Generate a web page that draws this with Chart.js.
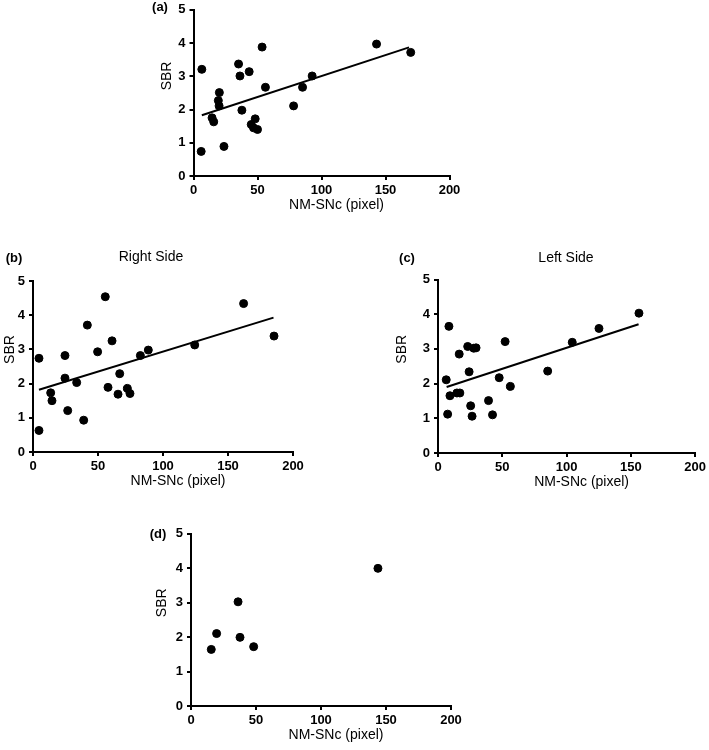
<!DOCTYPE html>
<html>
<head>
<meta charset="utf-8">
<script src="https://cdn.jsdelivr.net/npm/chart.js@4/dist/chart.umd.min.js"></script>
<style>
  html, body { margin: 0; padding: 0; background: #fff; }
  #wrap { position: relative; width: 709px; height: 750px; }
  #wrap canvas { position: absolute; left: 0; top: 0; }
</style>
</head>
<body>
<div id="wrap">
  <canvas id="chartA" width="709" height="750"></canvas>
  <canvas id="chartB" width="709" height="750"></canvas>
  <canvas id="chartC" width="709" height="750"></canvas>
  <canvas id="chartD" width="709" height="750"></canvas>
</div>
<script>
// (a) all
const aX = [6, 6.5, 14.5, 15.8, 19.4, 20.2, 20, 23.8, 35.2, 36.3, 37.8, 43.5, 53.6, 56.2, 45.1, 46.9, 48.2, 50, 78.2, 85.2, 92.7, 143, 169.7];
const aY = [0.74, 3.21, 1.75, 1.63, 2.27, 2.51, 2.11, 0.89, 3.37, 3.01, 1.98, 3.14, 3.88, 2.67, 1.55, 1.45, 1.72, 1.40, 2.11, 2.67, 3.01, 3.97, 3.72];
const aFitX = [6.5, 168.4];
const aFitY = [1.83, 3.87];

// (b) right side
const bX = [4.6, 4.6, 13.6, 14.6, 24.6, 24.6, 26.7, 33.6, 39, 41.8, 49.7, 55.6, 57.7, 60.8, 65.4, 66.7, 72.6, 74.6, 82.6, 88.7, 124.4, 162, 185.4];
const bY = [2.74, 0.63, 1.73, 1.50, 2.82, 2.16, 1.21, 2.03, 0.93, 3.71, 2.93, 4.54, 1.89, 3.25, 1.69, 2.29, 1.86, 1.71, 2.82, 2.98, 3.13, 4.34, 3.39];
const bFitX = [4.6, 185];
const bFitY = [1.82, 3.93];

// (c) left side
const cX = [6.4, 7.5, 8.5, 9.3, 14.7, 17, 16.5, 23.1, 24.2, 25.4, 26.5, 27.8, 29.6, 39.3, 42.4, 47.6, 52.2, 56.3, 85.3, 104.4, 125.2, 156.3];
const cY = [2.11, 1.12, 3.65, 1.65, 1.73, 1.73, 2.85, 3.07, 2.34, 1.36, 1.06, 3.02, 3.03, 1.51, 1.10, 2.17, 3.21, 1.92, 2.36, 3.19, 3.59, 4.03];
const cFitX = [6.7, 156];
const cFitY = [1.90, 3.71];

// (d)
const dX = [15.6, 19.7, 36.2, 37.7, 48.2, 143.8];
const dY = [1.64, 2.10, 3.02, 1.99, 1.72, 3.99];

const xTitle = 'NM-SNc (pixel)';
const yTitle = 'SBR';
const FONT = 'Arial, "Liberation Sans", Helvetica, sans-serif';

const Y_W = 28;   // fixed y axis box width
const X_H = 36;   // fixed x axis box height

// panel letters, subtitles and axis titles
const panelText = {
    id: 'panelText',
    afterDraw(chart, args, opts) {
        const ctx = chart.ctx;
        const a = chart.chartArea;
        ctx.save();
        ctx.fillStyle = '#000';
        ctx.textAlign = 'center';
        ctx.textBaseline = 'middle';
        ctx.font = 'bold 13px ' + FONT;
        ctx.fillText(opts.letter, opts.letterX, opts.letterY);
        ctx.font = '14px ' + FONT;
        if (opts.subtitle) {
            ctx.fillText(opts.subtitle, opts.subX, opts.subY);
        }
        ctx.fillText(xTitle, (a.left + a.right) / 2 + 15, a.bottom + 29);
        ctx.translate(a.left - opts.yGap, (a.top + a.bottom) / 2 - 17);
        ctx.rotate(-Math.PI / 2);
        ctx.fillText(yTitle, 0, 0);
        ctx.restore();
    }
};

function toPoints(xs, ys) {
    return xs.map((x, i) => ({ x: x, y: ys[i] }));
}

function makeChart(id, area, xs, ys, fitX, fitY, text) {
    const datasets = [{
        type: 'scatter',
        data: toPoints(xs, ys),
        backgroundColor: '#000',
        borderColor: '#000',
        pointRadius: 4,
        pointHoverRadius: 4
    }];
    if (fitX) {
        datasets.push({
            type: 'line',
            data: toPoints(fitX, fitY),
            borderColor: '#000',
            borderWidth: 2,
            pointRadius: 0,
            fill: false
        });
    }
    const axisBase = {
        type: 'linear',
        border: { display: true, color: '#000', width: 2 },
        grid: { drawOnChartArea: false, drawTicks: true, tickLength: 4, color: '#000', lineWidth: 2 },
        title: { display: false }
    };
    new Chart(document.getElementById(id), {
        type: 'scatter',
        data: { datasets: datasets },
        options: {
            responsive: false,
            animation: false,
            events: [],
            layout: {
                padding: {
                    left: area.left - Y_W,
                    top: area.top,
                    right: 709 - area.right,
                    bottom: 750 - area.bottom - X_H
                }
            },
            scales: {
                x: Object.assign({}, axisBase, {
                    position: 'bottom',
                    min: 0, max: 200,
                    ticks: { stepSize: 50, padding: 3, color: '#000', font: { family: FONT, size: 13, weight: 'bold' } },
                    afterFit: (s) => { s.height = X_H; }
                }),
                y: Object.assign({}, axisBase, {
                    position: 'left',
                    min: 0, max: 5,
                    ticks: { stepSize: 1, padding: 4, color: '#000', font: { family: FONT, size: 13, weight: 'bold', lineHeight: 0.9 } },
                    afterFit: (s) => { s.width = Y_W; }
                })
            },
            plugins: {
                legend: { display: false },
                tooltip: { enabled: false },
                panelText: text
            }
        },
        plugins: [panelText]
    });
}

makeChart('chartA', { left: 193.5, right: 449.5, top: 6, bottom: 176 }, aX, aY, aFitX, aFitY,
    { letter: '(a)', letterX: 160, letterY: 7, yGap: 26 });
makeChart('chartB', { left: 33, right: 293, top: 281, bottom: 452 }, bX, bY, bFitX, bFitY,
    { letter: '(b)', letterX: 14, letterY: 258, subtitle: 'Right Side', subX: 151, subY: 257, yGap: 23 });
makeChart('chartC', { left: 438, right: 697, top: 279.5, bottom: 453 }, cX, cY, cFitX, cFitY,
    { letter: '(c)', letterX: 407, letterY: 258, subtitle: 'Left Side', subX: 566, subY: 258, yGap: 35.5 });
makeChart('chartD', { left: 191, right: 451, top: 533.5, bottom: 706 }, dX, dY, null, null,
    { letter: '(d)', letterX: 158, letterY: 534, yGap: 28.5 });
</script>
</body>
</html>
